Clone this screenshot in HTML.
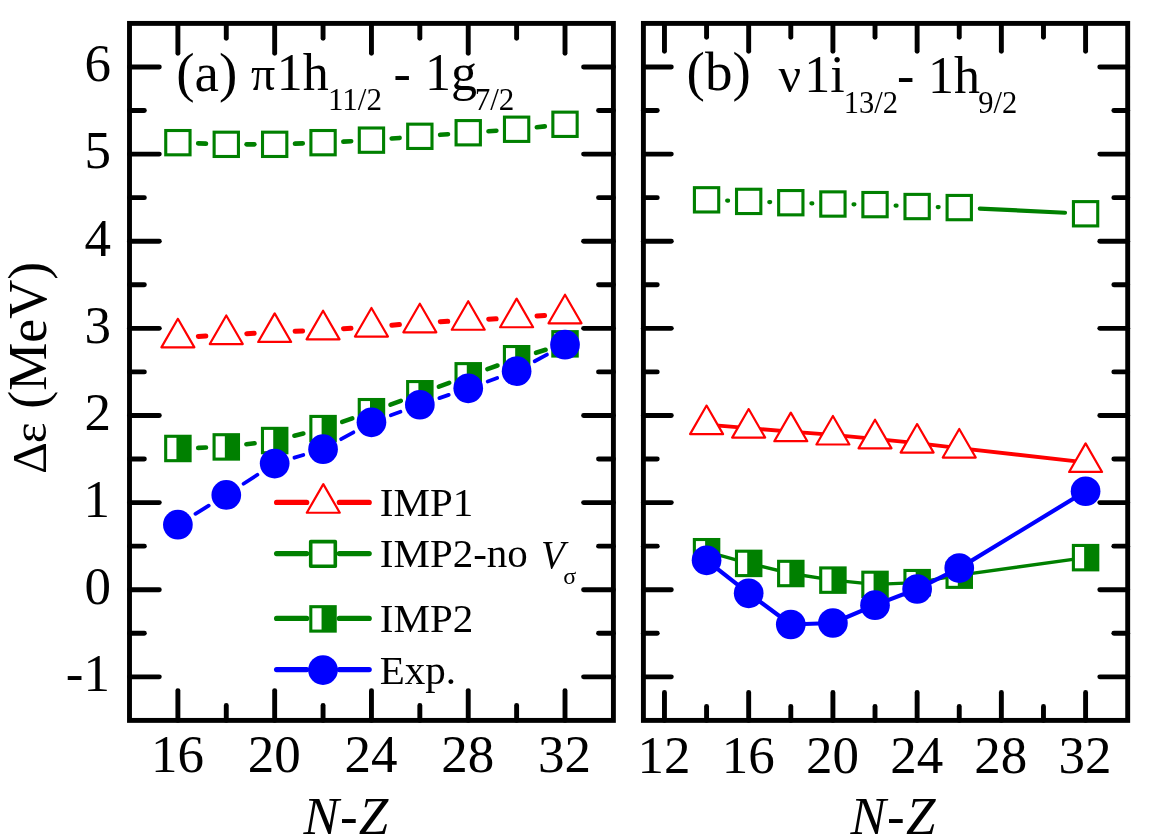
<!DOCTYPE html>
<html lang="en"><head><meta charset="utf-8"><title>Spin-orbit splitting</title>
<style>html,body{margin:0;padding:0;background:#fff}svg{display:block}</style></head>
<body>
<svg width="1162" height="840" viewBox="0 0 1162 840">
<rect width="1162" height="840" fill="#fff"/>
<g id="panelA">
<line x1="198.34" y1="336.43" x2="205.83" y2="335.92" stroke="#ff0000" stroke-width="5.0" stroke-linecap="round"/><line x1="246.76" y1="333.64" x2="254.19" y2="333.32" stroke="#ff0000" stroke-width="5.0" stroke-linecap="round"/><line x1="295.14" y1="331.33" x2="302.59" y2="330.92" stroke="#ff0000" stroke-width="5.0" stroke-linecap="round"/><line x1="343.53" y1="328.64" x2="350.98" y2="328.21" stroke="#ff0000" stroke-width="5.0" stroke-linecap="round"/><line x1="391.87" y1="325.23" x2="399.42" y2="324.56" stroke="#ff0000" stroke-width="5.0" stroke-linecap="round"/><line x1="440.31" y1="321.69" x2="447.76" y2="321.30" stroke="#ff0000" stroke-width="5.0" stroke-linecap="round"/><line x1="488.70" y1="319.17" x2="496.15" y2="318.78" stroke="#ff0000" stroke-width="5.0" stroke-linecap="round"/><line x1="537.05" y1="316.05" x2="544.58" y2="315.44" stroke="#ff0000" stroke-width="5.0" stroke-linecap="round"/>
<polygon points="161.39,347.36 194.39,347.36 177.89,318.78" fill="#fff" stroke="#ff0000" stroke-width="2.2" stroke-linejoin="round"/><polygon points="209.78,344.05 242.78,344.05 226.28,315.47" fill="#fff" stroke="#ff0000" stroke-width="2.2" stroke-linejoin="round"/><polygon points="258.17,341.96 291.17,341.96 274.67,313.38" fill="#fff" stroke="#ff0000" stroke-width="2.2" stroke-linejoin="round"/><polygon points="306.56,339.34 339.56,339.34 323.06,310.77" fill="#fff" stroke="#ff0000" stroke-width="2.2" stroke-linejoin="round"/><polygon points="354.95,336.56 387.95,336.56 371.45,307.98" fill="#fff" stroke="#ff0000" stroke-width="2.2" stroke-linejoin="round"/><polygon points="403.34,332.29 436.34,332.29 419.84,303.71" fill="#fff" stroke="#ff0000" stroke-width="2.2" stroke-linejoin="round"/><polygon points="451.73,329.76 484.73,329.76 468.23,301.18" fill="#fff" stroke="#ff0000" stroke-width="2.2" stroke-linejoin="round"/><polygon points="500.12,327.23 533.12,327.23 516.62,298.66" fill="#fff" stroke="#ff0000" stroke-width="2.2" stroke-linejoin="round"/><polygon points="548.51,323.31 581.51,323.31 565.01,294.74" fill="#fff" stroke="#ff0000" stroke-width="2.2" stroke-linejoin="round"/>
<line x1="198.18" y1="143.37" x2="205.99" y2="143.64" stroke="#008000" stroke-width="4.6" stroke-linecap="round"/><line x1="246.58" y1="144.33" x2="254.37" y2="144.33" stroke="#008000" stroke-width="4.6" stroke-linecap="round"/><line x1="294.96" y1="143.64" x2="302.77" y2="143.37" stroke="#008000" stroke-width="4.6" stroke-linecap="round"/><line x1="343.33" y1="141.62" x2="351.18" y2="141.21" stroke="#008000" stroke-width="4.6" stroke-linecap="round"/><line x1="391.69" y1="138.54" x2="399.60" y2="137.92" stroke="#008000" stroke-width="4.6" stroke-linecap="round"/><line x1="440.08" y1="134.82" x2="447.99" y2="134.24" stroke="#008000" stroke-width="4.6" stroke-linecap="round"/><line x1="488.48" y1="131.28" x2="496.37" y2="130.72" stroke="#008000" stroke-width="4.6" stroke-linecap="round"/><line x1="536.81" y1="127.18" x2="544.82" y2="126.36" stroke="#008000" stroke-width="4.6" stroke-linecap="round"/>
<rect x="165.74" y="130.52" width="24.3" height="24.3" fill="#fff" stroke="#008000" stroke-width="3.1"/><rect x="214.13" y="132.18" width="24.3" height="24.3" fill="#fff" stroke="#008000" stroke-width="3.1"/><rect x="262.52" y="132.18" width="24.3" height="24.3" fill="#fff" stroke="#008000" stroke-width="3.1"/><rect x="310.91" y="130.52" width="24.3" height="24.3" fill="#fff" stroke="#008000" stroke-width="3.1"/><rect x="359.30" y="128.00" width="24.3" height="24.3" fill="#fff" stroke="#008000" stroke-width="3.1"/><rect x="407.69" y="124.16" width="24.3" height="24.3" fill="#fff" stroke="#008000" stroke-width="3.1"/><rect x="456.08" y="120.59" width="24.3" height="24.3" fill="#fff" stroke="#008000" stroke-width="3.1"/><rect x="504.47" y="117.11" width="24.3" height="24.3" fill="#fff" stroke="#008000" stroke-width="3.1"/><rect x="552.86" y="112.14" width="24.3" height="24.3" fill="#fff" stroke="#008000" stroke-width="3.1"/>
<line x1="198.18" y1="447.83" x2="205.99" y2="447.57" stroke="#008000" stroke-width="4.6" stroke-linecap="round"/><line x1="246.41" y1="444.27" x2="254.54" y2="443.20" stroke="#008000" stroke-width="4.6" stroke-linecap="round"/><line x1="294.38" y1="435.69" x2="303.35" y2="433.48" stroke="#008000" stroke-width="4.6" stroke-linecap="round"/><line x1="342.22" y1="421.92" x2="352.29" y2="418.41" stroke="#008000" stroke-width="4.6" stroke-linecap="round"/><line x1="390.48" y1="404.66" x2="400.81" y2="400.83" stroke="#008000" stroke-width="4.6" stroke-linecap="round"/><line x1="438.87" y1="386.71" x2="449.20" y2="382.88" stroke="#008000" stroke-width="4.6" stroke-linecap="round"/><line x1="487.37" y1="369.07" x2="497.48" y2="365.50" stroke="#008000" stroke-width="4.6" stroke-linecap="round"/><line x1="536.02" y1="352.77" x2="545.61" y2="349.82" stroke="#008000" stroke-width="4.6" stroke-linecap="round"/>
<rect x="164.14" y="434.73" width="27.5" height="27.5" fill="#008000"/><rect x="167.24" y="437.83" width="9.20" height="21.30" fill="#fff"/><rect x="212.53" y="433.16" width="27.5" height="27.5" fill="#008000"/><rect x="215.63" y="436.26" width="9.20" height="21.30" fill="#fff"/><rect x="260.92" y="426.80" width="27.5" height="27.5" fill="#008000"/><rect x="264.02" y="429.90" width="9.20" height="21.30" fill="#fff"/><rect x="309.31" y="414.87" width="27.5" height="27.5" fill="#008000"/><rect x="312.41" y="417.97" width="9.20" height="21.30" fill="#fff"/><rect x="357.70" y="397.97" width="27.5" height="27.5" fill="#008000"/><rect x="360.80" y="401.07" width="9.20" height="21.30" fill="#fff"/><rect x="406.09" y="380.02" width="27.5" height="27.5" fill="#008000"/><rect x="409.19" y="383.12" width="9.20" height="21.30" fill="#fff"/><rect x="454.48" y="362.07" width="27.5" height="27.5" fill="#008000"/><rect x="457.58" y="365.17" width="9.20" height="21.30" fill="#fff"/><rect x="502.87" y="344.99" width="27.5" height="27.5" fill="#008000"/><rect x="505.97" y="348.09" width="9.20" height="21.30" fill="#fff"/><rect x="551.26" y="330.10" width="27.5" height="27.5" fill="#008000"/><rect x="554.36" y="333.20" width="9.20" height="21.30" fill="#fff"/>
<line x1="195.45" y1="513.85" x2="208.72" y2="505.70" stroke="#0000ff" stroke-width="3.8" stroke-linecap="round"/><line x1="243.57" y1="483.72" x2="257.38" y2="474.76" stroke="#0000ff" stroke-width="3.8" stroke-linecap="round"/><line x1="294.42" y1="457.69" x2="303.31" y2="455.05" stroke="#0000ff" stroke-width="3.8" stroke-linecap="round"/><line x1="341.08" y1="439.19" x2="353.43" y2="432.34" stroke="#0000ff" stroke-width="3.8" stroke-linecap="round"/><line x1="390.81" y1="415.30" x2="400.48" y2="411.79" stroke="#0000ff" stroke-width="3.8" stroke-linecap="round"/><line x1="439.34" y1="398.11" x2="448.73" y2="394.92" stroke="#0000ff" stroke-width="3.8" stroke-linecap="round"/><line x1="487.66" y1="381.42" x2="497.19" y2="378.06" stroke="#0000ff" stroke-width="3.8" stroke-linecap="round"/><line x1="534.68" y1="361.29" x2="546.95" y2="354.55" stroke="#0000ff" stroke-width="3.8" stroke-linecap="round"/>
<circle cx="177.89" cy="524.63" r="14.85" fill="#0000ff"/><circle cx="226.28" cy="494.92" r="14.85" fill="#0000ff"/><circle cx="274.67" cy="463.56" r="14.85" fill="#0000ff"/><circle cx="323.06" cy="449.18" r="14.85" fill="#0000ff"/><circle cx="371.45" cy="422.35" r="14.85" fill="#0000ff"/><circle cx="419.84" cy="404.75" r="14.85" fill="#0000ff"/><circle cx="468.23" cy="388.28" r="14.85" fill="#0000ff"/><circle cx="516.62" cy="371.20" r="14.85" fill="#0000ff"/><circle cx="565.01" cy="344.63" r="14.85" fill="#0000ff"/>
</g>
<g id="panelB">
<polyline points="706.57,424.61 748.68,428.10 790.80,431.67 832.91,434.98 875.02,438.81 917.13,443.08 959.25,448.05 1085.59,462.42" fill="none" stroke="#ff0000" stroke-width="3.8" stroke-linejoin="round"/>
<polygon points="690.07,434.14 723.07,434.14 706.57,405.56" fill="#fff" stroke="#ff0000" stroke-width="2.2" stroke-linejoin="round"/><polygon points="732.18,437.62 765.18,437.62 748.68,409.04" fill="#fff" stroke="#ff0000" stroke-width="2.2" stroke-linejoin="round"/><polygon points="774.30,441.19 807.30,441.19 790.80,412.62" fill="#fff" stroke="#ff0000" stroke-width="2.2" stroke-linejoin="round"/><polygon points="816.41,444.50 849.41,444.50 832.91,415.93" fill="#fff" stroke="#ff0000" stroke-width="2.2" stroke-linejoin="round"/><polygon points="858.52,448.34 891.52,448.34 875.02,419.76" fill="#fff" stroke="#ff0000" stroke-width="2.2" stroke-linejoin="round"/><polygon points="900.63,452.61 933.63,452.61 917.13,424.03" fill="#fff" stroke="#ff0000" stroke-width="2.2" stroke-linejoin="round"/><polygon points="942.75,457.57 975.75,457.57 959.25,428.99" fill="#fff" stroke="#ff0000" stroke-width="2.2" stroke-linejoin="round"/><polygon points="1069.09,471.95 1102.09,471.95 1085.59,443.37" fill="#fff" stroke="#ff0000" stroke-width="2.2" stroke-linejoin="round"/>
<line x1="727.16" y1="200.59" x2="728.10" y2="200.63" stroke="#008000" stroke-width="4.2" stroke-linecap="round"/><line x1="769.27" y1="202.04" x2="770.21" y2="202.06" stroke="#008000" stroke-width="4.2" stroke-linecap="round"/><line x1="811.39" y1="203.34" x2="812.32" y2="203.37" stroke="#008000" stroke-width="4.2" stroke-linecap="round"/><line x1="853.51" y1="204.31" x2="854.42" y2="204.32" stroke="#008000" stroke-width="4.2" stroke-linecap="round"/><line x1="895.60" y1="205.56" x2="896.56" y2="205.60" stroke="#008000" stroke-width="4.2" stroke-linecap="round"/><line x1="937.73" y1="207.05" x2="938.65" y2="207.07" stroke="#008000" stroke-width="4.2" stroke-linecap="round"/><line x1="979.82" y1="208.59" x2="1065.01" y2="212.76" stroke="#008000" stroke-width="4.2" stroke-linecap="round"/>
<rect x="694.42" y="187.68" width="24.3" height="24.3" fill="#fff" stroke="#008000" stroke-width="3.1"/><rect x="736.53" y="189.25" width="24.3" height="24.3" fill="#fff" stroke="#008000" stroke-width="3.1"/><rect x="778.65" y="190.55" width="24.3" height="24.3" fill="#fff" stroke="#008000" stroke-width="3.1"/><rect x="820.76" y="191.86" width="24.3" height="24.3" fill="#fff" stroke="#008000" stroke-width="3.1"/><rect x="862.87" y="192.47" width="24.3" height="24.3" fill="#fff" stroke="#008000" stroke-width="3.1"/><rect x="904.98" y="194.39" width="24.3" height="24.3" fill="#fff" stroke="#008000" stroke-width="3.1"/><rect x="947.10" y="195.43" width="24.3" height="24.3" fill="#fff" stroke="#008000" stroke-width="3.1"/><rect x="1073.44" y="201.62" width="24.3" height="24.3" fill="#fff" stroke="#008000" stroke-width="3.1"/>
<polyline points="706.57,551.73 748.68,563.40 790.80,573.51 832.91,580.13 875.02,584.40 917.13,582.66 959.25,575.16 1085.59,557.65" fill="none" stroke="#008000" stroke-width="3.4" stroke-linejoin="round"/>
<rect x="692.82" y="537.98" width="27.5" height="27.5" fill="#008000"/><rect x="695.92" y="541.08" width="9.20" height="21.30" fill="#fff"/><rect x="734.93" y="549.65" width="27.5" height="27.5" fill="#008000"/><rect x="738.03" y="552.75" width="9.20" height="21.30" fill="#fff"/><rect x="777.05" y="559.76" width="27.5" height="27.5" fill="#008000"/><rect x="780.15" y="562.86" width="9.20" height="21.30" fill="#fff"/><rect x="819.16" y="566.38" width="27.5" height="27.5" fill="#008000"/><rect x="822.26" y="569.48" width="9.20" height="21.30" fill="#fff"/><rect x="861.27" y="570.65" width="27.5" height="27.5" fill="#008000"/><rect x="864.37" y="573.75" width="9.20" height="21.30" fill="#fff"/><rect x="903.38" y="568.91" width="27.5" height="27.5" fill="#008000"/><rect x="906.48" y="572.01" width="9.20" height="21.30" fill="#fff"/><rect x="945.50" y="561.41" width="27.5" height="27.5" fill="#008000"/><rect x="948.60" y="564.51" width="9.20" height="21.30" fill="#fff"/><rect x="1071.84" y="543.90" width="27.5" height="27.5" fill="#008000"/><rect x="1074.94" y="547.00" width="9.20" height="21.30" fill="#fff"/>
<polyline points="706.57,560.35 748.68,593.28 790.80,624.48 832.91,622.99 875.02,605.13 917.13,589.02 959.25,568.11 1085.59,491.26" fill="none" stroke="#0000ff" stroke-width="4.2" stroke-linejoin="round"/>
<circle cx="706.57" cy="560.35" r="14.85" fill="#0000ff"/><circle cx="748.68" cy="593.28" r="14.85" fill="#0000ff"/><circle cx="790.80" cy="624.48" r="14.85" fill="#0000ff"/><circle cx="832.91" cy="622.99" r="14.85" fill="#0000ff"/><circle cx="875.02" cy="605.13" r="14.85" fill="#0000ff"/><circle cx="917.13" cy="589.02" r="14.85" fill="#0000ff"/><circle cx="959.25" cy="568.11" r="14.85" fill="#0000ff"/><circle cx="1085.59" cy="491.26" r="14.85" fill="#0000ff"/>
</g>
<rect x="129.5" y="23.4" width="483.90" height="697.00" fill="none" stroke="#000" stroke-width="4.9" stroke-linejoin="miter"/><line x1="177.89" y1="23.40" x2="177.89" y2="53.20" stroke="#000" stroke-width="4.9" stroke-linecap="round"/><line x1="177.89" y1="720.40" x2="177.89" y2="690.60" stroke="#000" stroke-width="4.9" stroke-linecap="round"/><line x1="274.67" y1="23.40" x2="274.67" y2="53.20" stroke="#000" stroke-width="4.9" stroke-linecap="round"/><line x1="274.67" y1="720.40" x2="274.67" y2="690.60" stroke="#000" stroke-width="4.9" stroke-linecap="round"/><line x1="371.45" y1="23.40" x2="371.45" y2="53.20" stroke="#000" stroke-width="4.9" stroke-linecap="round"/><line x1="371.45" y1="720.40" x2="371.45" y2="690.60" stroke="#000" stroke-width="4.9" stroke-linecap="round"/><line x1="468.23" y1="23.40" x2="468.23" y2="53.20" stroke="#000" stroke-width="4.9" stroke-linecap="round"/><line x1="468.23" y1="720.40" x2="468.23" y2="690.60" stroke="#000" stroke-width="4.9" stroke-linecap="round"/><line x1="565.01" y1="23.40" x2="565.01" y2="53.20" stroke="#000" stroke-width="4.9" stroke-linecap="round"/><line x1="565.01" y1="720.40" x2="565.01" y2="690.60" stroke="#000" stroke-width="4.9" stroke-linecap="round"/><line x1="226.28" y1="23.40" x2="226.28" y2="38.25" stroke="#000" stroke-width="4.9" stroke-linecap="round"/><line x1="226.28" y1="720.40" x2="226.28" y2="705.55" stroke="#000" stroke-width="4.9" stroke-linecap="round"/><line x1="323.06" y1="23.40" x2="323.06" y2="38.25" stroke="#000" stroke-width="4.9" stroke-linecap="round"/><line x1="323.06" y1="720.40" x2="323.06" y2="705.55" stroke="#000" stroke-width="4.9" stroke-linecap="round"/><line x1="419.84" y1="23.40" x2="419.84" y2="38.25" stroke="#000" stroke-width="4.9" stroke-linecap="round"/><line x1="419.84" y1="720.40" x2="419.84" y2="705.55" stroke="#000" stroke-width="4.9" stroke-linecap="round"/><line x1="516.62" y1="23.40" x2="516.62" y2="38.25" stroke="#000" stroke-width="4.9" stroke-linecap="round"/><line x1="516.62" y1="720.40" x2="516.62" y2="705.55" stroke="#000" stroke-width="4.9" stroke-linecap="round"/><line x1="129.50" y1="676.84" x2="159.30" y2="676.84" stroke="#000" stroke-width="4.9" stroke-linecap="round"/><line x1="613.40" y1="676.84" x2="583.60" y2="676.84" stroke="#000" stroke-width="4.9" stroke-linecap="round"/><line x1="129.50" y1="589.71" x2="159.30" y2="589.71" stroke="#000" stroke-width="4.9" stroke-linecap="round"/><line x1="613.40" y1="589.71" x2="583.60" y2="589.71" stroke="#000" stroke-width="4.9" stroke-linecap="round"/><line x1="129.50" y1="502.59" x2="159.30" y2="502.59" stroke="#000" stroke-width="4.9" stroke-linecap="round"/><line x1="613.40" y1="502.59" x2="583.60" y2="502.59" stroke="#000" stroke-width="4.9" stroke-linecap="round"/><line x1="129.50" y1="415.46" x2="159.30" y2="415.46" stroke="#000" stroke-width="4.9" stroke-linecap="round"/><line x1="613.40" y1="415.46" x2="583.60" y2="415.46" stroke="#000" stroke-width="4.9" stroke-linecap="round"/><line x1="129.50" y1="328.34" x2="159.30" y2="328.34" stroke="#000" stroke-width="4.9" stroke-linecap="round"/><line x1="613.40" y1="328.34" x2="583.60" y2="328.34" stroke="#000" stroke-width="4.9" stroke-linecap="round"/><line x1="129.50" y1="241.21" x2="159.30" y2="241.21" stroke="#000" stroke-width="4.9" stroke-linecap="round"/><line x1="613.40" y1="241.21" x2="583.60" y2="241.21" stroke="#000" stroke-width="4.9" stroke-linecap="round"/><line x1="129.50" y1="154.09" x2="159.30" y2="154.09" stroke="#000" stroke-width="4.9" stroke-linecap="round"/><line x1="613.40" y1="154.09" x2="583.60" y2="154.09" stroke="#000" stroke-width="4.9" stroke-linecap="round"/><line x1="129.50" y1="66.96" x2="159.30" y2="66.96" stroke="#000" stroke-width="4.9" stroke-linecap="round"/><line x1="613.40" y1="66.96" x2="583.60" y2="66.96" stroke="#000" stroke-width="4.9" stroke-linecap="round"/><line x1="129.50" y1="633.27" x2="144.35" y2="633.27" stroke="#000" stroke-width="4.9" stroke-linecap="round"/><line x1="613.40" y1="633.27" x2="598.55" y2="633.27" stroke="#000" stroke-width="4.9" stroke-linecap="round"/><line x1="129.50" y1="546.15" x2="144.35" y2="546.15" stroke="#000" stroke-width="4.9" stroke-linecap="round"/><line x1="613.40" y1="546.15" x2="598.55" y2="546.15" stroke="#000" stroke-width="4.9" stroke-linecap="round"/><line x1="129.50" y1="459.02" x2="144.35" y2="459.02" stroke="#000" stroke-width="4.9" stroke-linecap="round"/><line x1="613.40" y1="459.02" x2="598.55" y2="459.02" stroke="#000" stroke-width="4.9" stroke-linecap="round"/><line x1="129.50" y1="371.90" x2="144.35" y2="371.90" stroke="#000" stroke-width="4.9" stroke-linecap="round"/><line x1="613.40" y1="371.90" x2="598.55" y2="371.90" stroke="#000" stroke-width="4.9" stroke-linecap="round"/><line x1="129.50" y1="284.77" x2="144.35" y2="284.77" stroke="#000" stroke-width="4.9" stroke-linecap="round"/><line x1="613.40" y1="284.77" x2="598.55" y2="284.77" stroke="#000" stroke-width="4.9" stroke-linecap="round"/><line x1="129.50" y1="197.65" x2="144.35" y2="197.65" stroke="#000" stroke-width="4.9" stroke-linecap="round"/><line x1="613.40" y1="197.65" x2="598.55" y2="197.65" stroke="#000" stroke-width="4.9" stroke-linecap="round"/><line x1="129.50" y1="110.53" x2="144.35" y2="110.53" stroke="#000" stroke-width="4.9" stroke-linecap="round"/><line x1="613.40" y1="110.53" x2="598.55" y2="110.53" stroke="#000" stroke-width="4.9" stroke-linecap="round"/>
<rect x="643.4" y="23.4" width="484.30" height="697.00" fill="none" stroke="#000" stroke-width="4.9" stroke-linejoin="miter"/><line x1="664.46" y1="23.40" x2="664.46" y2="51.30" stroke="#000" stroke-width="4.9" stroke-linecap="round"/><line x1="664.46" y1="720.40" x2="664.46" y2="692.50" stroke="#000" stroke-width="4.9" stroke-linecap="round"/><line x1="748.68" y1="23.40" x2="748.68" y2="51.30" stroke="#000" stroke-width="4.9" stroke-linecap="round"/><line x1="748.68" y1="720.40" x2="748.68" y2="692.50" stroke="#000" stroke-width="4.9" stroke-linecap="round"/><line x1="832.91" y1="23.40" x2="832.91" y2="51.30" stroke="#000" stroke-width="4.9" stroke-linecap="round"/><line x1="832.91" y1="720.40" x2="832.91" y2="692.50" stroke="#000" stroke-width="4.9" stroke-linecap="round"/><line x1="917.13" y1="23.40" x2="917.13" y2="51.30" stroke="#000" stroke-width="4.9" stroke-linecap="round"/><line x1="917.13" y1="720.40" x2="917.13" y2="692.50" stroke="#000" stroke-width="4.9" stroke-linecap="round"/><line x1="1001.36" y1="23.40" x2="1001.36" y2="51.30" stroke="#000" stroke-width="4.9" stroke-linecap="round"/><line x1="1001.36" y1="720.40" x2="1001.36" y2="692.50" stroke="#000" stroke-width="4.9" stroke-linecap="round"/><line x1="1085.59" y1="23.40" x2="1085.59" y2="51.30" stroke="#000" stroke-width="4.9" stroke-linecap="round"/><line x1="1085.59" y1="720.40" x2="1085.59" y2="692.50" stroke="#000" stroke-width="4.9" stroke-linecap="round"/><line x1="706.57" y1="23.40" x2="706.57" y2="37.25" stroke="#000" stroke-width="4.9" stroke-linecap="round"/><line x1="706.57" y1="720.40" x2="706.57" y2="706.55" stroke="#000" stroke-width="4.9" stroke-linecap="round"/><line x1="790.80" y1="23.40" x2="790.80" y2="37.25" stroke="#000" stroke-width="4.9" stroke-linecap="round"/><line x1="790.80" y1="720.40" x2="790.80" y2="706.55" stroke="#000" stroke-width="4.9" stroke-linecap="round"/><line x1="875.02" y1="23.40" x2="875.02" y2="37.25" stroke="#000" stroke-width="4.9" stroke-linecap="round"/><line x1="875.02" y1="720.40" x2="875.02" y2="706.55" stroke="#000" stroke-width="4.9" stroke-linecap="round"/><line x1="959.25" y1="23.40" x2="959.25" y2="37.25" stroke="#000" stroke-width="4.9" stroke-linecap="round"/><line x1="959.25" y1="720.40" x2="959.25" y2="706.55" stroke="#000" stroke-width="4.9" stroke-linecap="round"/><line x1="1043.47" y1="23.40" x2="1043.47" y2="37.25" stroke="#000" stroke-width="4.9" stroke-linecap="round"/><line x1="1043.47" y1="720.40" x2="1043.47" y2="706.55" stroke="#000" stroke-width="4.9" stroke-linecap="round"/><line x1="643.40" y1="676.84" x2="671.30" y2="676.84" stroke="#000" stroke-width="4.9" stroke-linecap="round"/><line x1="1127.70" y1="676.84" x2="1099.80" y2="676.84" stroke="#000" stroke-width="4.9" stroke-linecap="round"/><line x1="643.40" y1="589.71" x2="671.30" y2="589.71" stroke="#000" stroke-width="4.9" stroke-linecap="round"/><line x1="1127.70" y1="589.71" x2="1099.80" y2="589.71" stroke="#000" stroke-width="4.9" stroke-linecap="round"/><line x1="643.40" y1="502.59" x2="671.30" y2="502.59" stroke="#000" stroke-width="4.9" stroke-linecap="round"/><line x1="1127.70" y1="502.59" x2="1099.80" y2="502.59" stroke="#000" stroke-width="4.9" stroke-linecap="round"/><line x1="643.40" y1="415.46" x2="671.30" y2="415.46" stroke="#000" stroke-width="4.9" stroke-linecap="round"/><line x1="1127.70" y1="415.46" x2="1099.80" y2="415.46" stroke="#000" stroke-width="4.9" stroke-linecap="round"/><line x1="643.40" y1="328.34" x2="671.30" y2="328.34" stroke="#000" stroke-width="4.9" stroke-linecap="round"/><line x1="1127.70" y1="328.34" x2="1099.80" y2="328.34" stroke="#000" stroke-width="4.9" stroke-linecap="round"/><line x1="643.40" y1="241.21" x2="671.30" y2="241.21" stroke="#000" stroke-width="4.9" stroke-linecap="round"/><line x1="1127.70" y1="241.21" x2="1099.80" y2="241.21" stroke="#000" stroke-width="4.9" stroke-linecap="round"/><line x1="643.40" y1="154.09" x2="671.30" y2="154.09" stroke="#000" stroke-width="4.9" stroke-linecap="round"/><line x1="1127.70" y1="154.09" x2="1099.80" y2="154.09" stroke="#000" stroke-width="4.9" stroke-linecap="round"/><line x1="643.40" y1="66.96" x2="671.30" y2="66.96" stroke="#000" stroke-width="4.9" stroke-linecap="round"/><line x1="1127.70" y1="66.96" x2="1099.80" y2="66.96" stroke="#000" stroke-width="4.9" stroke-linecap="round"/><line x1="643.40" y1="633.27" x2="657.25" y2="633.27" stroke="#000" stroke-width="4.9" stroke-linecap="round"/><line x1="1127.70" y1="633.27" x2="1113.85" y2="633.27" stroke="#000" stroke-width="4.9" stroke-linecap="round"/><line x1="643.40" y1="546.15" x2="657.25" y2="546.15" stroke="#000" stroke-width="4.9" stroke-linecap="round"/><line x1="1127.70" y1="546.15" x2="1113.85" y2="546.15" stroke="#000" stroke-width="4.9" stroke-linecap="round"/><line x1="643.40" y1="459.02" x2="657.25" y2="459.02" stroke="#000" stroke-width="4.9" stroke-linecap="round"/><line x1="1127.70" y1="459.02" x2="1113.85" y2="459.02" stroke="#000" stroke-width="4.9" stroke-linecap="round"/><line x1="643.40" y1="371.90" x2="657.25" y2="371.90" stroke="#000" stroke-width="4.9" stroke-linecap="round"/><line x1="1127.70" y1="371.90" x2="1113.85" y2="371.90" stroke="#000" stroke-width="4.9" stroke-linecap="round"/><line x1="643.40" y1="284.77" x2="657.25" y2="284.77" stroke="#000" stroke-width="4.9" stroke-linecap="round"/><line x1="1127.70" y1="284.77" x2="1113.85" y2="284.77" stroke="#000" stroke-width="4.9" stroke-linecap="round"/><line x1="643.40" y1="197.65" x2="657.25" y2="197.65" stroke="#000" stroke-width="4.9" stroke-linecap="round"/><line x1="1127.70" y1="197.65" x2="1113.85" y2="197.65" stroke="#000" stroke-width="4.9" stroke-linecap="round"/><line x1="643.40" y1="110.53" x2="657.25" y2="110.53" stroke="#000" stroke-width="4.9" stroke-linecap="round"/><line x1="1127.70" y1="110.53" x2="1113.85" y2="110.53" stroke="#000" stroke-width="4.9" stroke-linecap="round"/>
<g font-family="Liberation Serif, Times New Roman, serif" font-size="53" fill="#000">
<text x="110" y="691.14" text-anchor="end">-1</text>
<text x="111" y="604.01" text-anchor="end">0</text>
<text x="110" y="516.89" text-anchor="end">1</text>
<text x="111" y="429.76" text-anchor="end">2</text>
<text x="111" y="342.64" text-anchor="end">3</text>
<text x="111" y="255.51" text-anchor="end">4</text>
<text x="111" y="168.39" text-anchor="end">5</text>
<text x="111" y="81.26" text-anchor="end">6</text>
<text x="177.39" y="772" text-anchor="middle">16</text>
<text x="274.17" y="772" text-anchor="middle">20</text>
<text x="370.95" y="772" text-anchor="middle">24</text>
<text x="467.73" y="772" text-anchor="middle">28</text>
<text x="564.51" y="772" text-anchor="middle">32</text>
<text x="663.96" y="773" text-anchor="middle">12</text>
<text x="748.18" y="773" text-anchor="middle">16</text>
<text x="832.41" y="773" text-anchor="middle">20</text>
<text x="916.63" y="773" text-anchor="middle">24</text>
<text x="1000.86" y="773" text-anchor="middle">28</text>
<text x="1085.09" y="773" text-anchor="middle">32</text>
<text x="303.4" y="833.6" font-style="italic" letter-spacing="1.2">N-Z</text>
<text x="850.5" y="834.2" font-style="italic" letter-spacing="1.2">N-Z</text>
<text transform="translate(45.6,473.9) rotate(-90)" font-size="49.5">Δ</text>
<text transform="translate(45.6,443.3) rotate(-90)" font-size="49.5">ε</text>
<text transform="translate(45.6,408.7) rotate(-90)" font-size="54">(MeV)</text>
</g>
<g font-family="Liberation Serif, Times New Roman, serif" fill="#000">
<text x="176.3" y="91.2" font-size="55" >(a)</text>
<text x="251.0" y="89.7" font-size="48" >π</text>
<text x="276.8" y="89.8" font-size="52" >1h</text>
<text x="328.0" y="110.1" font-size="31" >11/2</text>
<text x="393.6" y="90.5" font-size="52" >-</text>
<text x="424.9" y="89.8" font-size="52" >1g</text>
<text x="474.7" y="110.0" font-size="31" >7/2</text>
<text x="686.6" y="90.0" font-size="55" >(b)</text>
<text x="778.5" y="92.0" font-size="50" >ν</text>
<text x="804.3" y="92.4" font-size="52" >1i</text>
<text x="843.7" y="112.6" font-size="30.5" >13/2</text>
<text x="896.9" y="93.4" font-size="52" >-</text>
<text x="928.0" y="92.6" font-size="52" >1h</text>
<text x="978.2" y="112.6" font-size="30.5" >9/2</text>
</g>
<line x1="276.6" y1="502.4" x2="306.7" y2="502.4" stroke="#ff0000" stroke-width="5.2" stroke-linecap="round"/><line x1="339.3" y1="502.4" x2="369.2" y2="502.4" stroke="#ff0000" stroke-width="5.2" stroke-linecap="round"/>
<polygon points="306.80,512.73 339.80,512.73 323.30,484.15" fill="#fff" stroke="#ff0000" stroke-width="2.2" stroke-linejoin="round"/>
<line x1="276.6" y1="553.6" x2="306.7" y2="553.6" stroke="#008000" stroke-width="5.2" stroke-linecap="round"/><line x1="339.3" y1="553.6" x2="369.2" y2="553.6" stroke="#008000" stroke-width="5.2" stroke-linecap="round"/>
<rect x="310.70" y="541.60" width="24.6" height="24.6" fill="#fff" stroke="#008000" stroke-width="3.6" stroke-linejoin="round"/>
<line x1="276.6" y1="618.4" x2="306.7" y2="618.4" stroke="#008000" stroke-width="5.2" stroke-linecap="round"/><line x1="339.3" y1="618.4" x2="369.2" y2="618.4" stroke="#008000" stroke-width="5.2" stroke-linecap="round"/>
<rect x="309.25" y="605.15" width="27.5" height="27.5" fill="#008000"/><rect x="312.35" y="608.25" width="9.20" height="21.30" fill="#fff"/>
<line x1="276.6" y1="669.6" x2="306.7" y2="669.6" stroke="#0000ff" stroke-width="5.2" stroke-linecap="round"/><line x1="339.3" y1="669.6" x2="369.2" y2="669.6" stroke="#0000ff" stroke-width="5.2" stroke-linecap="round"/>
<circle cx="323.00" cy="670.10" r="14.85" fill="#0000ff"/>
<g font-family="Liberation Serif, Times New Roman, serif" font-size="41" fill="#000">
<text x="379.8" y="516.1">IMP1</text>
<text x="379.8" y="567.2">IMP2-no</text>
<text x="541" y="567.6" font-size="39" font-style="italic">V</text>
<text x="563.2" y="583.5" font-size="24">σ</text>
<text x="379.8" y="631.7">IMP2</text>
<text x="379.8" y="683.5">Exp.</text>
</g>
</svg>
</body></html>
